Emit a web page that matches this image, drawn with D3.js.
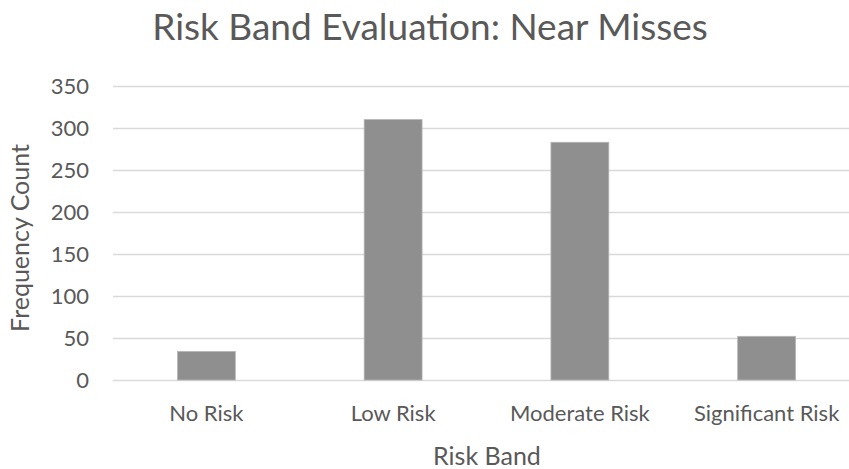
<!DOCTYPE html>
<html>
<head>
<meta charset="utf-8">
<script src="https://cdn.jsdelivr.net/npm/d3@7"></script>
<style>
  body { margin: 0; background: #fff; }
  svg { display: block; font-family: Lato, "Open Sans", sans-serif; }
</style>
</head>
<body>
<div id="chart"></div>
<script>
const categories = ["No Risk", "Low Risk", "Moderate Risk", "Significant Risk"];
const counts = [34, 310, 283, 52];
const yTicks = [0, 50, 100, 150, 200, 250, 300, 350];

const width = 849;
const height = 469;
const margin = { top: 86, right: -11, bottom: 89, left: 113 };
const textColor = "#595959";

const svg = d3.select("#chart")
  .append("svg")
  .attr("width", width)
  .attr("height", height);

const x = d3.scaleBand()
  .domain(categories)
  .range([margin.left, width - margin.right])
  .paddingInner(0.69)
  .paddingOuter(0.345);

const y = d3.scaleLinear()
  .domain([0, 350])
  .range([height - margin.bottom, margin.top]);

// gridlines + y labels
const yAxis = svg.append("g")
  .attr("transform", `translate(${margin.left},0)`)
  .call(d3.axisLeft(y).tickValues(yTicks).tickSize(-(width - margin.left)).tickPadding(24));
yAxis.select(".domain").remove();
yAxis.selectAll(".tick line").attr("stroke", "#d9d9d9").attr("stroke-width", 1.5);
yAxis.selectAll(".tick text")
  .attr("fill", textColor)
  .attr("font-size", 22)
  .attr("font-family", "Lato, sans-serif");

// bars
svg.append("g")
  .selectAll("rect")
  .data(counts)
  .join("rect")
  .attr("x", (d, i) => x(categories[i]))
  .attr("y", d => y(d))
  .attr("width", x.bandwidth())
  .attr("height", d => y(0) - y(d))
  .attr("fill", "#8f8f8f")
  .attr("stroke", "#b5b5b5")
  .attr("stroke-width", 0.8);

// x labels
const xAxis = svg.append("g")
  .attr("transform", `translate(0,${y(0)})`)
  .call(d3.axisBottom(x).tickSize(0).tickPadding(25));
xAxis.select(".domain").remove();
xAxis.selectAll(".tick text")
  .attr("fill", textColor)
  .attr("font-size", 22)
  .attr("font-family", "Lato, sans-serif");

// title
svg.append("text")
  .attr("x", 430)
  .attr("y", 40)
  .attr("text-anchor", "middle")
  .attr("fill", textColor)
  .attr("font-size", 37)
  .text("Risk Band Evaluation: Near Misses");

// axis titles
svg.append("text")
  .attr("x", 487)
  .attr("y", 465)
  .attr("text-anchor", "middle")
  .attr("fill", textColor)
  .attr("font-size", 25)
  .text("Risk Band");

svg.append("text")
  .attr("transform", "translate(29,238) rotate(-90)")
  .attr("text-anchor", "middle")
  .attr("fill", textColor)
  .attr("font-size", 25)
  .text("Frequency Count");
</script>
</body>
</html>
